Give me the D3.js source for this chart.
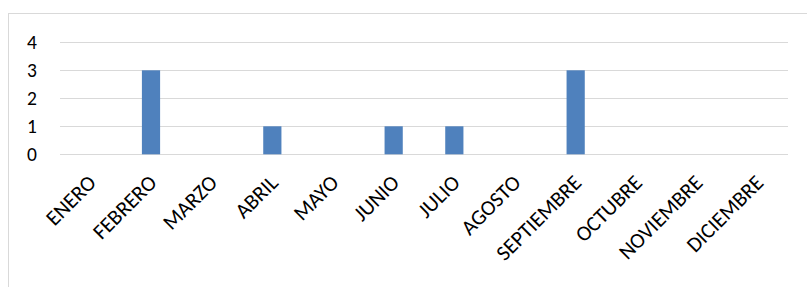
<!DOCTYPE html>
<html><head><meta charset="utf-8">
<script src="https://cdn.jsdelivr.net/npm/d3@7"></script>
<style>body{margin:0;background:#fff}svg{display:block}</style>
</head><body>
<script>
const categories = ["ENERO","FEBRERO","MARZO","ABRIL","MAYO","JUNIO","JULIO","AGOSTO","SEPTIEMBRE","OCTUBRE","NOVIEMBRE","DICIEMBRE"];
const values = [0,3,0,1,0,1,1,0,3,0,0,0];
const yTicks = [0,1,2,3,4];

const W = 807, H = 287;
const svg = d3.select("body").append("svg").attr("width", W).attr("height", H);
svg.append("rect").attr("x", 8.5).attr("y", 13.5).attr("width", 810).attr("height", 300)
  .attr("fill", "#fff").attr("stroke", "#d9d9d9");

const x = d3.scaleBand().domain(categories).range([60, 788]).paddingInner(0.7).paddingOuter(0.35);
const y = d3.scaleLinear().domain([0, 4]).range([154.3, 42.3]);

const font = "Calibri, Carlito, 'Liberation Sans', sans-serif";

svg.append("g").selectAll("line").data(yTicks).join("line")
  .attr("x1", 60).attr("x2", 788)
  .attr("y1", d => Math.round(y(d)) + 0.5).attr("y2", d => Math.round(y(d)) + 0.5)
  .attr("stroke", "#d9d9d9").attr("stroke-width", 1);

svg.append("g").selectAll("text").data(yTicks).join("text")
  .attr("x", 37).attr("y", d => y(d)).attr("dy", "0.35em")
  .attr("text-anchor", "end").attr("font-family", font).attr("font-size", 19.5).attr("fill", "#000")
  .text(d => d);

svg.append("g").selectAll("rect").data(categories).join("rect")
  .attr("x", d => x(d)).attr("width", x.bandwidth())
  .attr("y", (d, i) => y(values[i])).attr("height", (d, i) => y(0) - y(values[i]))
  .attr("fill", "#4f81bd");

const band = d3.scaleBand().domain(categories).range([60, 788]);
svg.append("g").selectAll("text").data(categories).join("text")
  .attr("transform", d => `translate(${band(d) + band.bandwidth() / 2 + 7},${184}) rotate(-45)`)
  .attr("text-anchor", "end").attr("font-family", font).attr("font-size", 21.5).attr("fill", "#000")
  .text(d => d);
</script>
</body></html>
